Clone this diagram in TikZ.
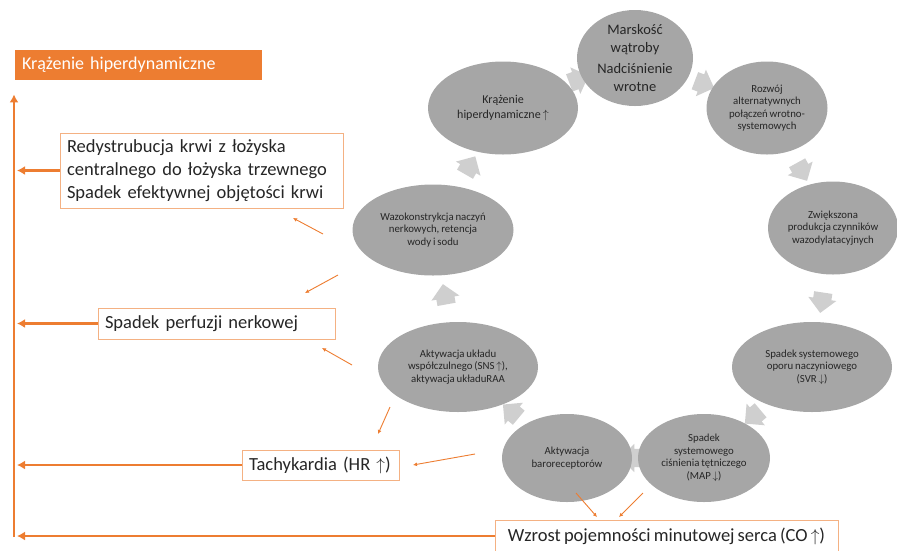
\documentclass[tikz,border=0pt]{standalone}
\usepackage{fontspec}
\setmainfont{Carlito}[WordSpace=0.75]
\usepackage{tikz}
\usetikzlibrary{shapes.geometric, shapes.arrows, arrows.meta, positioning, backgrounds}
\definecolor{ellgray}{HTML}{A6A6A6}
\definecolor{flowgray}{HTML}{CFCFCF}
\definecolor{linkorange}{HTML}{ED7D31}
\definecolor{boxorange}{HTML}{F4B183}
\definecolor{textgray}{HTML}{262626}
\tikzstyle{bubble}=[ellipse, fill=ellgray, text=textgray, align=center, inner sep=0pt, font=\fontsize{10.8}{12.5}\selectfont]
\tikzstyle{info}=[rectangle, draw=boxorange, line width=0.8pt, fill=white, text=textgray, align=left, inner ysep=0pt, inner xsep=7pt, font=\fontsize{18.5}{23}\selectfont]
\tikzstyle{flowarrow}=[single arrow, fill=flowgray, single arrow head extend=5pt, inner xsep=5.5pt, inner ysep=9pt, sloped, allow upside down]
\tikzstyle{bus}=[line width=2.5pt, draw=linkorange, -{Latex[length=8pt,width=9pt]}]
\tikzstyle{link}=[line width=0.9pt, draw=linkorange, -{Latex[length=4pt,width=4pt]}]

\begin{document}
\begin{tikzpicture}[x=1pt,y=-1pt]
    \useasboundingbox (0,0) rectangle (897,550);

    \node[bubble, minimum width=116pt, minimum height=96pt, font=\fontsize{14.5}{17.5}\selectfont] (marsk) at (635,58) {Marskość\\wątroby\\[4pt]Nadciśnienie\\wrotne};
    \node[bubble, minimum width=121pt, minimum height=93pt] (rozwoj) at (767,108) {Rozwój\\alternatywnych\\połączeń wrotno-\\systemowych};
    \node[bubble, minimum width=130pt, minimum height=93pt] (zwiek) at (833,228) {Zwiększona\\produkcja czynników\\wazodylatacyjnych};
    \node[bubble, minimum width=160pt, minimum height=90pt] (opor) at (812,367) {Spadek systemowego\\oporu naczyniowego\\(SVR $\downarrow$)};
    \node[bubble, minimum width=132pt, minimum height=88pt] (cisn) at (704,458) {Spadek\\systemowego\\ciśnienia tętniczego\\(MAP $\downarrow$)};
    \node[bubble, minimum width=130pt, minimum height=88pt] (baro) at (567,458) {Aktywacja\\baroreceptorów};
    \node[bubble, minimum width=160pt, minimum height=90pt] (uklad) at (458,367) {Aktywacja układu\\współczulnego (SNS $\uparrow$),\\aktywacja układuRAA};
    \node[bubble, minimum width=161pt, minimum height=91pt] (wazo) at (433,230) {Wazokonstrykcja naczyń\\nerkowych, retencja\\wody i sodu};
    \node[bubble, minimum width=150pt, minimum height=93pt, font=\fontsize{12}{15}\selectfont] (kraz) at (503,108) {Krążenie\\hiperdynamiczne $\uparrow$};

    \begin{scope}[on background layer]
        \path (marsk) -- node[flowarrow] {} (rozwoj);
        \path (rozwoj) -- node[flowarrow] {} (zwiek);
        \path (zwiek) -- node[flowarrow] {} (opor);
        \path (opor) -- node[flowarrow] {} (cisn);
        \path (cisn) -- node[flowarrow] {} (baro);
        \path (baro) -- node[flowarrow] {} (uklad);
        \path (uklad) -- node[flowarrow] {} (wazo);
        \path (wazo) -- node[flowarrow] {} (kraz);
        \path (kraz) -- node[flowarrow] {} (marsk);
    \end{scope}

    \node[info, fill=linkorange, draw=none, text=white, text width=233pt, minimum height=30pt, font=\fontsize{18}{20}\selectfont] (title) at (138.5,65) {Krążenie hiperdynamiczne};
    \node[info, text width=269pt, minimum height=75pt] (redis) at (201.5,170.5) {Redystrubucja krwi z łożyska\\centralnego do łożyska trzewnego\\Spadek efektywnej objętości krwi};
    \node[info, text width=223pt, minimum height=31pt] (perf) at (216.5,323.5) {Spadek perfuzji nerkowej};
    \node[info, text width=143pt, minimum height=30pt] (tachy) at (320.5,465) {Tachykardia (HR $\uparrow$)};
    \node[info, minimum width=343pt, minimum height=32pt, inner xsep=2pt] (wzrost) at (666.5,536) {Wzrost pojemności minutowej serca (CO $\uparrow$)};

    \coordinate (trunk) at (14,537);
    \draw[bus] (trunk) -- (title.south -| trunk) [shorten >=14pt];
    \draw[bus, shorten >=3pt] (wzrost.west) -- (wzrost.west -| trunk);
    \draw[bus, shorten >=3pt] (tachy.west) -- (tachy.west -| trunk);
    \draw[bus, shorten >=3pt] (perf.west) -- (perf.west -| trunk);
    \draw[bus, shorten >=3pt] (redis.west) -- (redis.west -| trunk);

    \coordinate (wazoA) at (323,234);
    \coordinate (redisA) at (293,218);
    \coordinate (wazoB) at (338,275);
    \coordinate (perfA) at (305,293);
    \coordinate (ukladA) at (352,365);
    \coordinate (perfB) at (322,348);
    \coordinate (ukladB) at (390,407);
    \coordinate (tachyA) at (378,434);
    \coordinate (baroA) at (475,454);
    \coordinate (tachyB) at (413,465);
    \coordinate (baroB) at (576,493);
    \coordinate (wzrostA) at (597,517);
    \coordinate (cisnA) at (643,493);
    \coordinate (wzrostB) at (619,517);

    \draw[link] (wazoA) -- (redisA);
    \draw[link] (wazoB) -- (perfA);
    \draw[link] (ukladA) -- (perfB);
    \draw[link] (ukladB) -- (tachyA);
    \draw[link] (baroA) -- (tachyB);
    \draw[link] (baroB) -- (wzrostA);
    \draw[link] (cisnA) -- (wzrostB);
\end{tikzpicture}
\end{document}
